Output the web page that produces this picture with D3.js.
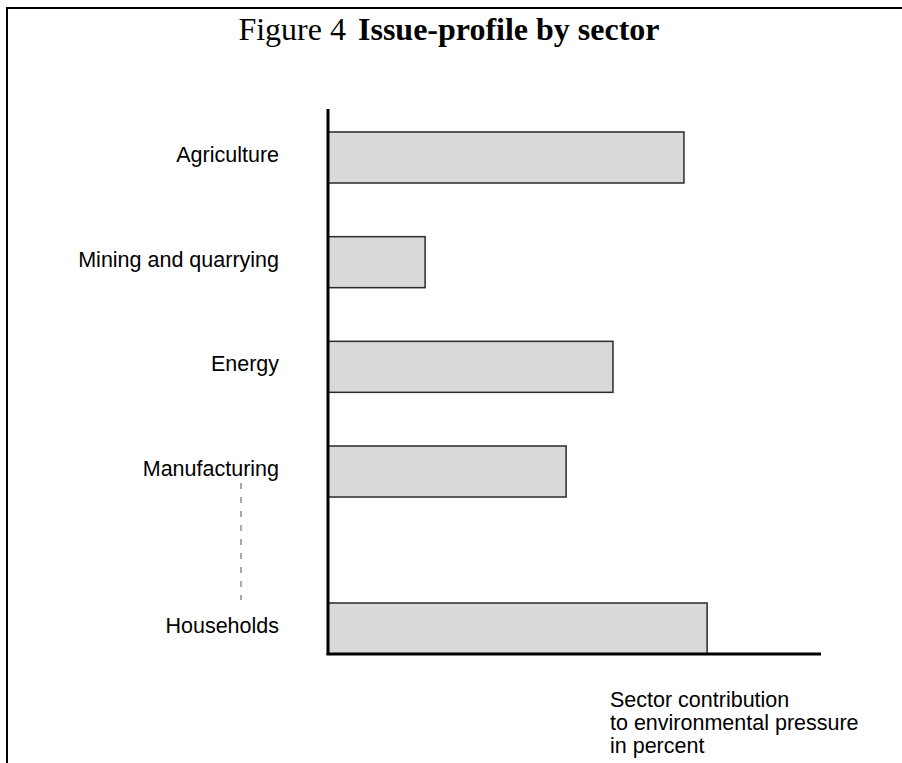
<!DOCTYPE html>
<html lang="en">
  <head>
	<meta charset="utf-8"/>
	<title>Figure 4 - Issue-profile by sector</title>
	<script src="https://cdn.jsdelivr.net/npm/d3@7"></script>
	<style>
		body { margin: 0; background: #ffffff; }
	</style>
  </head>
  <body>
	<svg id="chart"></svg>
	<script>

		const sectors = ['Agriculture', 'Mining and quarrying', 'Energy', 'Manufacturing', 'Households']
		// row index of each sector, households sit lower because sectors are left out (dashed line)
		const rows = [0, 1, 2, 3, 4.5]
		const contribution = [72.2, 19.7, 57.8, 48.3, 76.9]
		const captionLines = ['Sector contribution', 'to environmental pressure', 'in percent']

		const width = 902
		const height = 763

		const svg = d3.select('#chart')
		.attr('width', width)
		.attr('height', height)
		.style('display', 'block')

		const x = d3.scaleLinear()
		.domain([0, 100])
		.range([328, 821])

		const y = d3.scaleLinear()
		.domain([0, 4.5])
		.range([132, 603])

		const barHeight = 51

		// frame
		svg.append('path')
		.attr('d', `M7,${height} V8 H${width}`)
		.attr('fill', 'none')
		.attr('stroke', '#000')
		.attr('stroke-width', 2)

		// title
		const title = svg.append('text')
		.attr('x', 449)
		.attr('y', 40)
		.attr('text-anchor', 'middle')
		.style('font-family', '"Liberation Serif", "Times New Roman", serif')
		.style('font-size', '32px')
		title.append('tspan').text('Figure 4')
		title.append('tspan')
		.attr('dx', 12)
		.style('font-weight', 'bold')
		.text('Issue-profile by sector')

		const data = sectors.map((s, i) => ({name: s, row: rows[i], value: contribution[i]}))

		// bars
		svg.append('g')
		.selectAll('rect')
		.data(data)
		.enter()
		.append('rect')
		.attr('x', x(0))
		.attr('y', (d) => y(d.row))
		.attr('width', (d) => x(d.value) - x(0))
		.attr('height', barHeight)
		.attr('fill', '#d9d9d9')
		.attr('stroke', '#2a2a2a')
		.attr('stroke-width', 1.5)

		// sector labels
		svg.append('g')
		.selectAll('text')
		.data(data)
		.enter()
		.append('text')
		.attr('x', 279)
		.attr('y', (d) => y(d.row) + barHeight / 2 - 3)
		.attr('dy', '0.35em')
		.attr('text-anchor', 'end')
		.style('font-family', '"Liberation Sans", Arial, sans-serif')
		.style('font-size', '21.5px')
		.text((d) => d.name)

		// dashed line for the sectors left out
		svg.append('line')
		.attr('x1', 241)
		.attr('x2', 241)
		.attr('y1', y(3) + barHeight - 14)
		.attr('y2', y(4.5) - 3)
		.attr('stroke', '#555')
		.attr('stroke-width', 1)
		.attr('stroke-dasharray', '6,8')

		// axes
		svg.append('line')
		.attr('x1', x(0))
		.attr('x2', x(0))
		.attr('y1', 109)
		.attr('y2', 655)
		.attr('stroke', '#000')
		.attr('stroke-width', 3)

		svg.append('line')
		.attr('x1', x(0) - 1.5)
		.attr('x2', x(100))
		.attr('y1', 654)
		.attr('y2', 654)
		.attr('stroke', '#000')
		.attr('stroke-width', 3)

		// axis caption
		svg.append('g')
		.selectAll('text')
		.data(captionLines)
		.enter()
		.append('text')
		.attr('x', 610)
		.attr('y', (d, i) => 707 + i * 23)
		.style('font-family', '"Liberation Sans", Arial, sans-serif')
		.style('font-size', '21.5px')
		.text((d) => d)

	</script>
  </body>
</html>
